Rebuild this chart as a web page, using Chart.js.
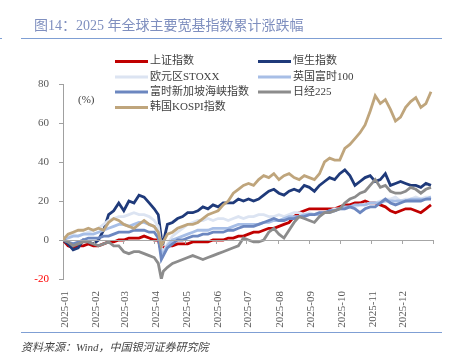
<!DOCTYPE html>
<html><head><meta charset="utf-8">
<script src="https://cdn.jsdelivr.net/npm/chart.js@4/dist/chart.umd.min.js"></script>
<style>
html,body{margin:0;padding:0;background:#fff;}
#wrap{position:relative;width:457px;height:363px;overflow:hidden;}
canvas{position:absolute;left:0;top:0;}
#title{position:absolute;left:34px;top:17px;font:14px "Liberation Serif","Noto Sans CJK SC";color:#7f8fbf;white-space:nowrap;line-height:18px;}
#tl{position:absolute;left:21px;top:38px;width:421px;border-top:1px solid #7f9fd4;}
#tm{position:absolute;left:0px;top:38px;width:2px;border-top:1px solid #7f9fd4;}
#bl{position:absolute;left:21px;top:332px;width:421px;border-top:1px solid #7f9fd4;}
#src{position:absolute;left:21px;top:339px;font:italic 11px "Liberation Serif","Noto Sans CJK SC";color:#444;white-space:nowrap;line-height:16px;}
</style></head>
<body><div id="wrap">
<canvas id="c" width="457" height="363"></canvas>
<div id="title">图14：2025 年全球主要宽基指数累计涨跌幅</div>
<div id="tm"></div><div id="tl"></div><div id="bl"></div>
<div id="src">资料来源：Wind，中国银河证券研究院</div>
</div>
<script>
const days = [0,5,10,15,20,25,30,35,40,45,50,55,60,65,70,75,80,85,90,94,97,99,103,108,113,118,123,128,133,138,143,148,153,158,163,168,173,178,183,188,193,198,203,208,213,218,223,228,233,238,243,248,253,258,263,268,273,278,283,288,293,298,303,308,313,318,323,328,333,338,343,348,353,358,363];
const monthStarts = [0,31,59,90,120,151,181,212,243,273,304,334];
const monthLabels = ["2025-01","2025-02","2025-03","2025-04","2025-05","2025-06","2025-07","2025-08","2025-09","2025-10","2025-11","2025-12"];
const yTicks = [-20,0,20,40,60,80];
const seriesNames = ["上证指数","恒生指数","欧元区STOXX","英国富时100","富时新加坡海峡指数","日经225","韩国KOSPI指数"];
const sse    = [0,-3,-4,-3,-3,-2,-3,-3,-2,-1,-1,0,0,1,1,1,2,1,0,0,-6,-4,-3,-3,-2,-2,-2,-1,-1,-1,-1,0,0,0,1,1,2,2,3,4,4,5,6,6,7,8,9,12,14,15,16,16,16,16,16,16,17,18,18,19,19,20,19,19,18,17,15,14,15,16,16,15,14,16,18];
const hsi    = [0,-2,-5,-4,0,-1,-2,0,5,13,15,19,15,20,19,23,22,19,16,13,1,-1,8,9,11,12,14,14,15,17,16,18,17,19,19,19,21,20,21,20,21,23,25,26,24,23,25,26,25,28,27,25,28,30,32,31,34,36,33,28,30,32,33,30,31,34,28,29,30,29,28,28,27,29,28];
const stoxx  = [0,2,3,2,3,4,5,6,8,10,11,12,12,13,14,13,13,12,10,7,-4,-6,-2,2,4,6,8,9,10,10,11,10,11,11,10,11,12,11,12,12,13,13,12,12,13,12,13,14,14,13,14,13,14,14,15,16,16,16,17,17,18,18,19,19,20,21,21,22,20,21,21,22,21,22,22];
const ftse   = [0,1,2,2,3,3,3,4,5,6,7,8,8,7,8,9,9,8,7,4,-6,-7,-3,0,1,2,3,4,5,5,5,6,6,6,6,7,8,8,8,8,8,9,9,10,10,11,12,12,12,13,13,13,13,14,14,15,16,17,17,18,18,18,19,19,19,20,20,20,20,20,21,21,21,21,22];
const sti    = [0,-1,-2,-1,0,1,1,1,2,2,3,4,4,4,5,5,5,4,4,1,-10,-8,-4,-2,0,0,1,2,2,3,3,4,4,4,5,5,6,7,7,7,8,9,10,11,10,10,11,11,12,12,13,13,14,14,15,15,16,16,17,16,14,16,17,17,19,21,19,18,19,20,20,20,20,21,21];
const nikkei = [0,-1,-3,-2,-1,-1,-2,-3,-2,-1,-3,-3,-6,-7,-6,-6,-7,-8,-9,-12,-20,-16,-14,-12,-11,-10,-9,-8,-9,-10,-9,-8,-7,-6,-5,-4,-3,1,0,-1,-1,0,4,6,3,1,5,9,12,11,10,9,12,14,14,15,16,19,21,22,24,25,28,31,27,28,25,24,24,25,27,26,24,26,27];
const kospi  = [0,3,4,5,5,6,5,6,5,9,11,10,8,7,6,8,10,8,7,4,-3,-1,3,4,6,7,8,8,9,11,13,14,15,18,20,24,26,28,29,28,31,33,32,34,31,33,34,32,31,33,32,31,34,40,42,41,41,47,49,52,55,59,66,74,70,72,67,61,63,68,71,73,68,70,76];
const colors = ["#c00000","#1f3a7a","#dce4f2","#a7bee6","#6c87c0","#8c8c8c","#bfa57c"];
const allSeries = [sse,hsi,stoxx,ftse,sti,nikkei,kospi];

const FONT = '"Liberation Serif","Noto Sans CJK SC"';
const datasets = allSeries.map((arr,i)=>({
  label: seriesNames[i],
  data: days.map((d,j)=>({x:d,y:arr[j]})),
  borderColor: colors[i],
  backgroundColor: colors[i],
  borderWidth: 2.8,
  pointRadius: 0,
  tension: 0,
  order: -i
}));

const deco = {
  id:'deco',
  afterDatasetsDraw(chart){
    const ctx = chart.ctx, xs = chart.scales.x, ys = chart.scales.y, a = chart.chartArea;
    const y0 = ys.getPixelForValue(0);
    ctx.save();
    ctx.strokeStyle = '#a6a6a6'; ctx.lineWidth = 1;
    ctx.beginPath(); ctx.moveTo(a.left, Math.round(y0)+0.5); ctx.lineTo(a.right, Math.round(y0)+0.5); ctx.stroke();
    monthStarts.slice(1).concat([365]).forEach(v=>{
      const px = Math.round(xs.getPixelForValue(v))+0.5;
      ctx.beginPath(); ctx.moveTo(px, y0); ctx.lineTo(px, y0+4); ctx.stroke();
    });
    ctx.restore();
  },
  afterDraw(chart){
    const ctx = chart.ctx;
    ctx.save();
    const cols=[115,258], rows=[61.5,77,92,107.5];
    chart.data.datasets.forEach((ds,i)=>{
      const cx = cols[i%2], cy = rows[Math.floor(i/2)];
      ctx.strokeStyle = ds.borderColor; ctx.lineWidth = 3;
      ctx.beginPath(); ctx.moveTo(cx, cy); ctx.lineTo(cx+33, cy); ctx.stroke();
      ctx.fillStyle = '#404040'; ctx.font = '11px '+FONT; ctx.textBaseline='middle'; ctx.textAlign='left';
      ctx.fillText(ds.label, cx+35, cy);
    });
    ctx.fillStyle = '#404040'; ctx.font = '11px '+FONT; ctx.textBaseline='middle';
    ctx.fillText('(%)', 78, 100);
    ctx.restore();
  }
};

new Chart(document.getElementById('c'), {
  type:'line',
  data:{datasets},
  options:{
    responsive:false, animation:false,
    layout:{padding:{left:0,top:84,right:24,bottom:0}},
    plugins:{legend:{display:false},tooltip:{enabled:false}},
    scales:{
      x:{type:'linear',min:0,max:365,
        afterBuildTicks(s){ s.ticks = monthStarts.map(v=>({value:v})); },
        afterFit(s){ s.height = 84; },
        grid:{display:false}, border:{display:false},
        ticks:{autoSkip:false,maxRotation:90,minRotation:90,padding:4,labelOffset:2,color:'#595959',font:{family:FONT,size:11},
          callback:(v,i)=>monthLabels[i]}
      },
      y:{min:-20,max:80,
        afterBuildTicks(s){ s.ticks = yTicks.map(v=>({value:v})); },
        afterFit(s){ s.width = 63; },
        grid:{drawOnChartArea:false,tickLength:4,color:'#a0a0a0'},
        border:{color:'#a0a0a0'},
        ticks:{padding:10,font:{family:FONT,size:11},color:(c)=>c.tick && c.tick.value<0?'#ff0000':'#595959'}
      }
    }
  },
  plugins:[deco]
});
</script>
</body></html>
